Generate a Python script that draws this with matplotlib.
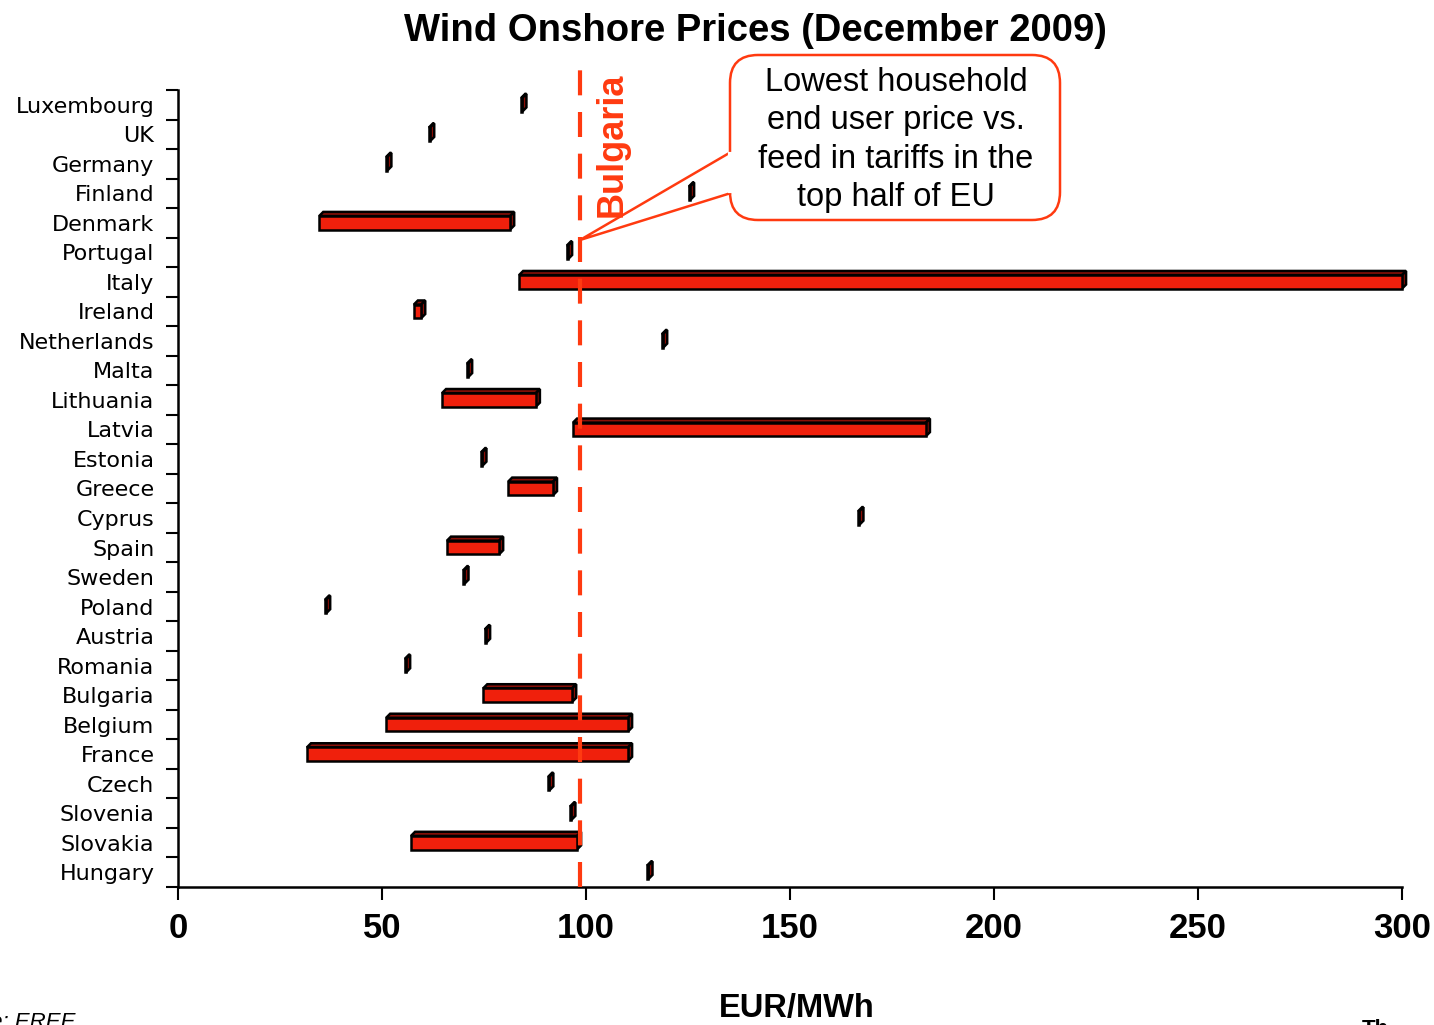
import numpy as np
import matplotlib
matplotlib.use("Agg")
import matplotlib.pyplot as plt
from matplotlib.patches import Polygon, FancyBboxPatch
from matplotlib.transforms import IdentityTransform, blended_transform_factory
from matplotlib.lines import Line2D

# data (EUR/MWh), top to bottom
countries = ["Luxembourg", "UK", "Germany", "Finland", "Denmark", "Portugal", "Italy",
             "Ireland", "Netherlands", "Malta", "Lithuania", "Latvia", "Estonia", "Greece",
             "Cyprus", "Spain", "Sweden", "Poland", "Austria", "Romania", "Bulgaria",
             "Belgium", "France", "Czech", "Slovenia", "Slovakia", "Hungary"]
price_low = [84.1, 61.5, 51.0, 125.2, 34.6, 95.3, 83.6, 57.8, 118.6, 70.8, 64.7, 96.8, 74.3,
             80.9, 166.7, 65.9, 69.9, 36.0, 75.2, 55.6, 74.8, 51.0, 31.6, 90.7, 96.1, 57.1, 115.0]
price_high = [84.1, 61.5, 51.0, 125.2, 81.4, 95.3, 300.0, 59.6, 118.6, 70.8, 87.7, 183.3, 74.3,
              91.9, 166.7, 78.7, 69.9, 36.0, 75.2, 55.6, 96.6, 110.3, 110.3, 90.7, 96.1, 97.8, 115.0]
bulgaria_price = 98.5
xticks = [0, 50, 100, 150, 200, 250, 300]

RED = "#F0200C"
LINE_RED = "#FF3A10"

fig = plt.figure(figsize=(14.34, 10.25), dpi=100)
ax = fig.add_axes([178 / 1434, 1 - 887 / 1025, 1224 / 1434, 797 / 1025])

n = len(countries)
ypos = np.arange(n)[::-1]
h = 0.46
dx, dy = 1.0, 0.14

for y, lo, hi in zip(ypos, price_low, price_high):
    if hi - lo < 0.3:
        hi = lo + 0.3
    front = Polygon([(lo, y - h / 2), (hi, y - h / 2), (hi, y + h / 2), (lo, y + h / 2)],
                    closed=True, facecolor=RED, edgecolor="black", lw=1.8, zorder=3)
    top = Polygon([(lo, y + h / 2), (lo + dx, y + h / 2 + dy), (hi + dx, y + h / 2 + dy), (hi, y + h / 2)],
                  closed=True, facecolor="#8A1008", edgecolor="black", lw=1.8, zorder=3)
    side = Polygon([(hi, y - h / 2), (hi + dx, y - h / 2 + dy), (hi + dx, y + h / 2 + dy), (hi, y + h / 2)],
                   closed=True, facecolor="#8A0E06", edgecolor="black", lw=1.8, zorder=3)
    for p in (top, side, front):
        p.set_clip_on(False)
        ax.add_patch(p)

ax.set_xlim(0, 300)
ax.set_ylim(-0.5, n - 0.5)

# axes styling
for s in ("top", "right"):
    ax.spines[s].set_visible(False)
for s in ("left", "bottom"):
    ax.spines[s].set_linewidth(1.8)

ax.set_xticks(xticks)
ax.set_xticklabels([str(t) for t in xticks], fontsize=25, fontweight="bold", family="Liberation Sans")
ax.tick_params(axis="x", direction="out", length=9, width=1.5, pad=9)

ax.set_yticks(np.arange(-0.5, n, 1.0))
ax.set_yticklabels([])
ax.tick_params(axis="y", which="major", direction="out", length=9, width=1.5)
ax.set_yticks(ypos, minor=True)
ax.set_yticklabels(countries, minor=True, fontsize=16, family="DejaVu Sans")
ax.tick_params(axis="y", which="minor", length=0, pad=17)

# Bulgaria reference line
ax.axvline(bulgaria_price, ymin=0, ymax=1.025, color=LINE_RED, lw=3, dashes=(6, 4),
           clip_on=False, zorder=5)
trans = blended_transform_factory(ax.transData, ax.transAxes)
ax.text(bulgaria_price + 7.8, 0.931, "Bulgaria", transform=trans, rotation=90,
        color=LINE_RED, fontsize=26, fontweight="bold", family="Liberation Sans",
        ha="center", va="center")

# callout box (pixel coordinates)
H = 1025
box = FancyBboxPatch((730, H - 220), 330, 165, boxstyle="round,pad=0,rounding_size=28",
                     transform=IdentityTransform(), facecolor="white", edgecolor=LINE_RED,
                     lw=1.8, zorder=10)
fig.add_artist(box)
wedge = Polygon([(731, H - 152), (580, H - 240), (731, H - 193)], closed=False,
                transform=IdentityTransform(), facecolor="none", edgecolor=LINE_RED,
                lw=1.8, zorder=11)
fig.add_artist(wedge)
fig.add_artist(Line2D([730, 730], [H - 154, H - 191], transform=IdentityTransform(),
                      color="white", lw=3, zorder=12))
fig.text(896 / 1434, 1 - 140 / H,
         "Lowest household\nend user price vs.\nfeed in tariffs in the\ntop half of EU",
         ha="center", va="center", fontsize=23.5, family="Liberation Sans",
         linespacing=1.3, zorder=13)

# titles
fig.text(755 / 1434, 1 - 31 / H, "Wind Onshore Prices (December 2009)", ha="center", va="center",
         fontsize=27.5, fontweight="bold", family="Liberation Sans")
fig.text(797 / 1434, 1 - 1009 / H, "EUR/MWh", ha="center", va="center",
         fontsize=23.5, fontweight="bold", family="Liberation Sans")
fig.text(75 / 1434, 1 - 1012 / H, "Source: EREE", ha="right", va="top",
         fontsize=16, style="italic", family="Liberation Sans")
fig.text(1362 / 1434, 1 - 1019 / H, "Th", ha="left", va="top",
         fontsize=16, fontweight="bold", family="Liberation Sans")

fig.savefig("out.png", dpi=100)
